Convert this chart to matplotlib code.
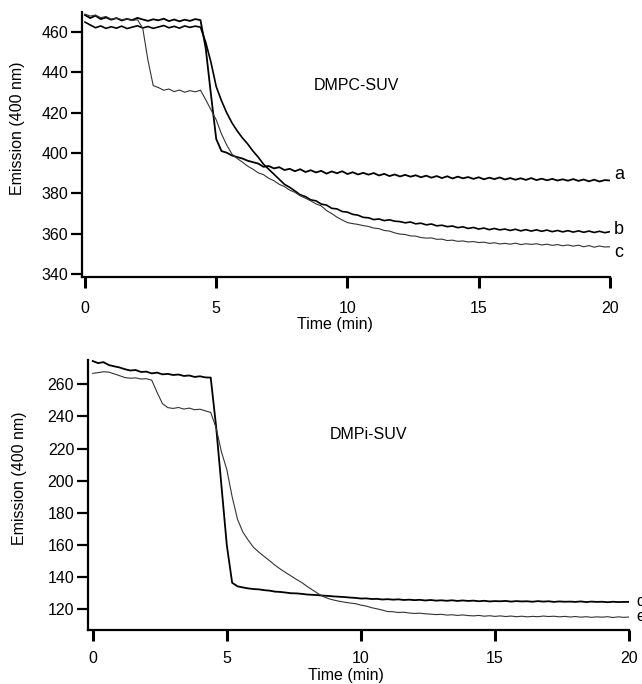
import numpy as np
import matplotlib
matplotlib.use("Agg")
import matplotlib.pyplot as plt

plt.rcParams['font.family'] = ['Liberation Sans', 'DejaVu Sans']

# time grid (min), one reading every 0.2 min
time_min = np.round(np.arange(0, 20.01, 0.2), 1)

# DMPC-SUV traces, emission at 400 nm
trace_a = [468.5, 467.0, 468.2, 466.5, 467.3, 466.2, 467.0, 465.8, 466.6, 466.0,
           467.1, 466.3, 465.6, 466.4, 465.9, 466.7, 465.5, 466.3, 465.4, 466.2,
           465.6, 466.5, 466.0, 452.0, 429.0, 407.0, 401.0, 400.2, 398.8, 398.0,
           397.3, 396.2, 395.5, 394.8, 393.2, 393.6, 392.4, 393.0, 391.6, 392.2,
           391.0, 392.0, 390.6, 391.5, 390.4, 391.2, 389.8, 390.9, 390.0, 391.0,
           389.6, 390.5, 389.4, 390.2, 389.3, 390.1, 388.9, 389.7, 388.6, 389.4,
           388.4, 389.2, 388.3, 389.0, 388.0, 388.8, 387.8, 388.6, 387.6, 388.5,
           387.4, 388.3, 387.5, 388.1, 387.2, 388.0, 387.0, 387.8, 387.1, 387.9,
           386.9, 387.6, 386.8, 387.5, 386.7, 387.6, 386.6, 387.3, 386.5, 387.2,
           386.4, 387.0, 386.3, 387.1, 386.2, 386.9, 386.0, 386.8, 385.9, 386.6,
           386.4]
trace_b = [465.0, 463.6, 462.2, 463.1, 461.9, 462.7, 462.0, 463.0, 461.8, 462.5,
           463.2, 462.1, 462.8, 461.9, 462.6, 463.3, 462.2, 462.9, 462.0, 463.1,
           462.4, 463.0, 462.5, 455.0, 445.0, 433.0, 426.0, 420.0, 415.0, 411.0,
           407.5, 404.5, 401.0, 398.0, 394.5, 392.0, 389.5, 387.0, 384.5, 383.0,
           381.2, 379.3, 378.4, 376.8, 376.3, 374.7, 374.2, 372.6, 372.3, 371.0,
           370.7, 369.6, 369.2, 368.1, 367.9, 367.0, 367.3, 366.5, 366.9, 366.2,
           366.0, 365.4, 365.8, 364.9, 365.2, 364.4, 364.8, 363.9, 364.2, 363.5,
           363.8, 363.0, 363.4, 362.6, 363.1, 362.3, 362.8, 362.0, 362.6, 361.9,
           362.3, 361.6, 362.2, 361.4, 362.0, 361.3, 361.9, 361.2, 361.8, 361.0,
           361.6, 360.9, 361.5, 360.8, 361.4, 360.7, 361.3, 360.6, 361.2, 360.5,
           361.0]
trace_c = [469.0, 468.0, 468.5, 467.2, 467.8, 466.5, 467.0, 466.2, 466.6, 465.8,
           466.2, 462.0, 446.0, 433.5, 432.5, 431.2, 431.8, 430.5, 431.3, 430.2,
           431.0, 430.4, 431.2, 426.5, 421.5, 416.5, 409.5, 404.0, 399.5, 397.3,
           395.5, 393.5, 392.0, 390.2, 389.3, 387.5, 386.3, 384.5, 383.4, 381.6,
           380.5, 378.8, 377.6, 376.3, 374.8, 373.8, 371.5, 370.0, 368.2, 366.8,
           365.5, 365.0, 364.6, 364.0, 363.6, 362.8, 362.5, 361.6, 361.3, 360.4,
           359.8, 359.6, 358.9, 358.8, 358.1, 357.8, 357.9, 357.2, 357.3, 356.6,
           356.8, 356.2, 356.4, 355.9, 356.1, 355.6, 355.8, 355.2, 355.5, 354.9,
           355.2, 354.8, 355.3, 354.6, 355.0, 354.7, 355.0, 354.4, 354.8, 354.2,
           354.6, 354.0, 354.4, 353.8, 354.3, 353.5, 354.1, 353.3, 353.9, 353.4,
           353.5]

# DMPi-SUV traces
trace_d = [274.5, 273.2, 273.8, 272.0, 271.2, 270.5, 269.4, 268.6, 268.9, 267.7,
           267.9, 266.8, 267.3, 266.2, 266.5, 265.8, 266.1, 265.2, 265.5, 264.6,
           265.0, 264.3, 264.2, 234.0, 197.0, 160.0, 136.5, 134.3, 133.6, 133.0,
           132.6, 132.4, 131.9, 131.6, 131.0, 130.8, 130.4, 130.0, 129.9, 129.6,
           129.2, 129.0, 128.8, 128.5, 128.3, 128.0, 127.8, 127.6, 127.3, 127.1,
           126.7, 126.8, 126.4, 126.5, 126.1, 126.3, 126.0, 126.2, 125.8, 126.0,
           125.7, 125.9, 125.5, 125.8, 125.4, 125.6, 125.3, 125.6, 125.2, 125.5,
           125.2, 125.4, 125.0, 125.3, 124.9, 125.1, 125.0, 125.2, 124.8, 125.1,
           124.9, 125.0, 124.7, 125.1, 124.8, 125.0, 124.6, 124.9, 124.7, 124.8,
           124.6, 124.9, 124.5, 124.8, 124.6, 124.7, 124.4, 124.7, 124.5, 124.6,
           124.6]
trace_e = [266.8, 267.3, 267.8, 267.6, 266.5, 265.4, 264.2, 263.8, 264.0, 263.3,
           263.5, 262.6, 255.0, 248.0, 245.5, 245.0, 245.6, 244.6, 245.2, 244.2,
           244.5, 243.5, 242.5, 233.0, 218.0, 207.0, 190.0, 176.0, 168.0, 163.0,
           158.5, 155.5, 152.8, 150.2, 147.4, 145.0, 142.8, 140.7, 138.6, 136.6,
           134.2, 132.0, 129.8, 127.9, 126.6, 125.7, 125.0, 124.4, 123.9, 123.5,
           122.6, 122.0, 121.0, 120.3, 119.5, 118.6, 118.5, 118.0, 118.2, 117.7,
           117.4, 117.6, 117.2, 117.0, 116.7, 116.9, 116.4, 116.6, 116.2, 116.5,
           116.1, 115.9, 116.2, 115.7, 116.0, 115.6, 115.9, 115.5, 115.8, 115.4,
           115.7, 115.3, 115.6, 115.4, 115.8, 115.5, 115.7, 115.3, 115.6, 115.2,
           115.5, 115.1, 115.4, 115.0, 115.3, 115.1, 115.4, 114.9, 115.3, 115.0,
           115.2]

top_yticks = [340, 360, 380, 400, 420, 440, 460]
bottom_yticks = [120, 140, 160, 180, 200, 220, 240, 260]
xticks = [0, 5, 10, 15, 20]

FS = 11.5


def style_axes(ax, xpad):
    #old-style journal axes: left and bottom only, thick outward ticks
    ax.spines['top'].set_visible(False)
    ax.spines['right'].set_visible(False)
    ax.spines['left'].set_linewidth(1.6)
    ax.spines['bottom'].set_linewidth(1.6)
    ax.tick_params(axis='y', direction='out', length=8, width=1.6, pad=2, labelsize=FS)
    ax.tick_params(axis='x', direction='out', length=8, width=2.2, pad=xpad, labelsize=FS)
    ax.set_xticks(xticks)


fig = plt.figure(figsize=(6.42, 6.84), dpi=100)

#upper panel
ax1 = fig.add_axes([0.1277, 0.595, 0.8224, 0.3874])
ax1.plot(time_min, trace_a, color='black', lw=1.3)
ax1.plot(time_min, trace_b, color='black', lw=1.2)
ax1.plot(time_min, trace_c, color='#333333', lw=0.8)
ax1.set_xlim(-0.114, 20)
ax1.set_ylim(338.5, 470)
ax1.set_yticks(top_yticks)
style_axes(ax1, 9)
ax1.set_xlabel('Time (min)', fontsize=FS)
ax1.xaxis.set_label_coords(0.479, -0.15)
ax1.set_ylabel('Emission (400 nm)', fontsize=FS)
ax1.yaxis.set_label_coords(-0.108, 0.562)
ax1.text(10.34, 433.7, 'DMPC-SUV', fontsize=FS, ha='center', va='center')
ax1.text(20.15, 389.6, 'a', fontsize=FS + 1.5, ha='left', va='center')
ax1.text(20.15, 362.3, 'b', fontsize=FS + 1.5, ha='left', va='center')
ax1.text(20.15, 350.6, 'c', fontsize=FS + 1.5, ha='left', va='center')

#lower panel
ax2 = fig.add_axes([0.1371, 0.0789, 0.8427, 0.3947])
ax2.plot(time_min, trace_d, color='black', lw=1.3)
ax2.plot(time_min, trace_e, color='#333333', lw=0.8)
ax2.set_xlim(-0.175, 20)
ax2.set_ylim(107.1, 275.1)
ax2.set_yticks(bottom_yticks)
style_axes(ax2, 7)
ax2.set_xlabel('Time (min)', fontsize=FS)
ax2.xaxis.set_label_coords(0.477, -0.14)
ax2.set_ylabel('Emission (400 nm)', fontsize=FS)
ax2.yaxis.set_label_coords(-0.113, 0.563)
ax2.text(10.3, 229, 'DMPi-SUV', fontsize=FS, ha='center', va='center')
ax2.text(20.27, 124.6, 'd', fontsize=FS, ha='left', va='center')
ax2.text(20.27, 115.7, 'e', fontsize=FS, ha='left', va='center')

fig.savefig('out.png', dpi=100)
